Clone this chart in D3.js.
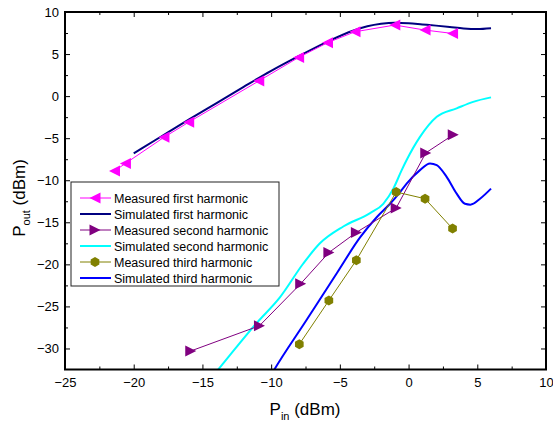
<!DOCTYPE html>
<html>
<head>
<meta charset="utf-8">
<script src="https://cdn.jsdelivr.net/npm/d3@7"></script>
<style>
  body { margin: 0; background: #fff; }
  svg { font-family: "Liberation Sans", Arial, sans-serif; }
</style>
</head>
<body>
<div id="chart"></div>
<script>
// measured points
const m1X = [-21.4, -20.6, -17.8, -16.0, -10.9, -8.0, -5.9, -3.9, -1.0, 1.2, 3.2];
const m1Y = [-8.9, -8.0, -4.9, -3.1, 1.8, 4.6, 6.35, 7.65, 8.45, 7.85, 7.45];
const m2X = [-15.85, -10.85, -7.85, -5.8, -3.8, -0.9, 1.25, 3.25];
const m2Y = [-30.3, -27.3, -22.3, -18.6, -16.2, -13.3, -6.75, -4.6];
const m3X = [-7.95, -5.8, -3.8, -0.9, 1.2, 3.2];
const m3Y = [-29.5, -24.3, -19.5, -11.4, -12.2, -15.75];

// simulated curves
const s1X = [-20, -18, -16, -14, -12, -10, -8, -6, -4, -3, -2, -1, 0, 1, 2, 3, 4, 5, 6];
const s1Y = [-6.8, -4.8, -2.8, -0.85, 1.1, 3.0, 4.75, 6.4, 7.8, 8.3, 8.6, 8.73, 8.66, 8.52, 8.38, 8.22, 8.05, 7.98, 8.08];
const s2X = [-14.2, -13, -11.1, -9.35, -7.66, -6.45, -4.75, -2.8, -1.84, -1.11, -0.5, -0.14, 0.83, 2.05, 3.5, 4.7, 6.0];
const s2Y = [-33.2, -30.8, -27.06, -23.9, -19.9, -17.5, -15.5, -13.9, -12.8, -11.0, -8.8, -7.6, -4.85, -2.46, -1.46, -0.68, -0.15];
const s3X = [-10.3, -9.84, -7.46, -5.2, -3.53, -2.32, -1.35, -0.62, -0.14, 0.83, 1.56, 2.05, 2.77, 3.5, 4.1, 4.5, 5.2, 6.0];
const s3Y = [-34, -32.7, -26.7, -21.0, -16.8, -14.4, -12.8, -11.4, -10.4, -8.8, -8.0, -8.2, -9.6, -11.6, -12.8, -12.9, -12.2, -11.0];

const xTicks = [-25, -20, -15, -10, -5, 0, 5, 10];
const yTicks = [-30, -25, -20, -15, -10, -5, 0, 5, 10];

const seriesNames = [
  "Measured first harmonic", "Simulated first harmonic",
  "Measured second harmonic", "Simulated second harmonic",
  "Measured third harmonic", "Simulated third harmonic"
];
const seriesColors = ["#ff00ff", "#000080", "#800080", "#00ffff", "#808000", "#0000ff"];

const W = 553, H = 424;
const pLeft = 65, pRight = 546, pTop = 12, pBottom = 369.5;

const x = d3.scaleLinear().domain([-25, 10]).range([pLeft, pRight]);
const y = d3.scaleLinear().domain([-32.5, 10]).range([pBottom, pTop]);

const svg = d3.select("#chart").append("svg")
  .attr("width", W).attr("height", H);

svg.append("defs").append("clipPath").attr("id", "clip")
  .append("rect")
  .attr("x", pLeft).attr("y", pTop)
  .attr("width", pRight - pLeft).attr("height", pBottom - pTop);

const zip = (xs, ys) => xs.map((v, i) => [v, ys[i]]);

// markers
function triangle(dir) {
  // dir -1 = left, 1 = right
  const w = 5.5, h = 5.5;
  return `M${dir * w},0L${-dir * w},${-h}L${-dir * w},${h}Z`;
}
function hexagon(r) {
  const pts = d3.range(6).map(i => {
    const a = Math.PI / 6 + i * Math.PI / 3;
    return [r * Math.cos(a), r * Math.sin(a)];
  });
  return "M" + pts.map(p => p.join(",")).join("L") + "Z";
}

// axes
function addAxis(axis, tf, vals, size, labels) {
  const g = svg.append("g").attr("transform", tf)
    .call(axis.tickValues(vals).tickSize(size).tickPadding(6)
      .tickFormat(labels ? d3.format("d") : ""));
  g.select(".domain").remove();
  g.selectAll(".tick line").attr("stroke", "#000").attr("stroke-width", 1);
  g.selectAll(".tick text").attr("font-size", 13).attr("fill", "#000")
    .attr("font-family", "Liberation Sans, Arial, sans-serif");
  return g;
}
const xMinor = d3.range(-22.5, 10, 5);
const yMinor = d3.range(-27.5, 10, 5);

addAxis(d3.axisBottom(x), `translate(0,${pBottom})`, xTicks, -5, true)
  .selectAll(".tick text").attr("dy", "0.85em");
addAxis(d3.axisBottom(x), `translate(0,${pBottom})`, xMinor, -3, false);
addAxis(d3.axisTop(x), `translate(0,${pTop})`, xTicks, -5, false);
addAxis(d3.axisTop(x), `translate(0,${pTop})`, xMinor, -3, false);
addAxis(d3.axisLeft(y), `translate(${pLeft},0)`, yTicks, -5, true);
addAxis(d3.axisLeft(y), `translate(${pLeft},0)`, yMinor, -3, false);
addAxis(d3.axisRight(y), `translate(${pRight},0)`, yTicks, -5, false);
addAxis(d3.axisRight(y), `translate(${pRight},0)`, yMinor, -3, false);

const plot = svg.append("g").attr("clip-path", "url(#clip)");

const smooth = d3.line().x(d => x(d[0])).y(d => y(d[1])).curve(d3.curveMonotoneX);
const straight = d3.line().x(d => x(d[0])).y(d => y(d[1]));

// simulated
[[s1X, s1Y, 1], [s2X, s2Y, 3], [s3X, s3Y, 5]].forEach(([xs, ys, c]) => {
  plot.append("path").datum(zip(xs, ys))
    .attr("fill", "none").attr("stroke", seriesColors[c])
    .attr("stroke-width", 2).attr("d", smooth);
});

// measured
const measured = [
  [m1X, m1Y, 0, triangle(-1)],
  [m2X, m2Y, 2, triangle(1)],
  [m3X, m3Y, 4, hexagon(5)]
];
measured.forEach(([xs, ys, c, shape]) => {
  const pts = zip(xs, ys);
  plot.append("path").datum(pts)
    .attr("fill", "none").attr("stroke", seriesColors[c])
    .attr("stroke-width", 1).attr("d", straight);
  plot.selectAll(null).data(pts).enter().append("path")
    .attr("transform", d => `translate(${x(d[0])},${y(d[1])})`)
    .attr("d", shape).attr("fill", seriesColors[c]);
});

// frame
svg.append("rect")
  .attr("x", pLeft).attr("y", pTop)
  .attr("width", pRight - pLeft).attr("height", pBottom - pTop)
  .attr("fill", "none").attr("stroke", "#000").attr("stroke-width", 2);

// legend
const lg = svg.append("g").attr("transform", "translate(71,182)");
lg.append("rect").attr("width", 208).attr("height", 104)
  .attr("fill", "#fff").attr("stroke", "#222").attr("stroke-width", 1);
const shapes = [triangle(-1), null, triangle(1), null, hexagon(5), null];
seriesNames.forEach((name, i) => {
  const row = lg.append("g").attr("transform", `translate(0,${16 + i * 16})`);
  row.append("line").attr("x1", 9).attr("x2", 40)
    .attr("stroke", seriesColors[i]).attr("stroke-width", i % 2 ? 2 : 1);
  if (shapes[i]) {
    row.append("path").attr("d", shapes[i]).attr("transform", "translate(24,0)")
      .attr("fill", seriesColors[i]);
  }
  row.append("text").attr("x", 43).attr("y", 4.5)
    .attr("font-size", 12.5).attr("fill", "#000").text(name);
});

// axis titles
const xt = svg.append("text").attr("x", 305).attr("y", 415)
  .attr("text-anchor", "middle").attr("font-size", 17).attr("fill", "#000");
xt.append("tspan").text("P");
xt.append("tspan").attr("font-size", 11).attr("dy", 5).text("in");
xt.append("tspan").attr("dy", -5).text(" (dBm)");

const yt = svg.append("text")
  .attr("transform", "translate(25,198) rotate(-90)")
  .attr("text-anchor", "middle").attr("font-size", 17).attr("fill", "#000");
yt.append("tspan").text("P");
yt.append("tspan").attr("font-size", 11).attr("dy", 5).text("out");
yt.append("tspan").attr("dy", -5).text(" (dBm)");
</script>
</body>
</html>
